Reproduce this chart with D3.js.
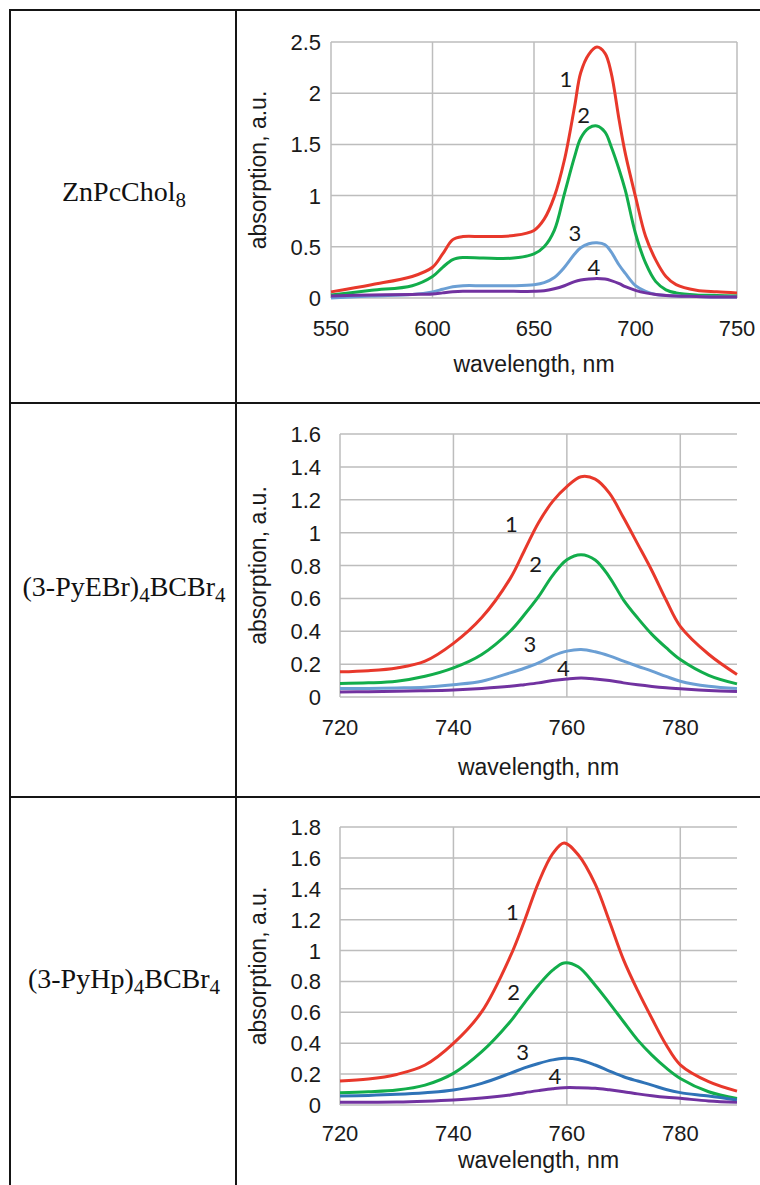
<!DOCTYPE html>
<html lang="en">
<head>
<meta charset="UTF-8">
<title>Absorption spectra</title>
<script src="https://d3js.org/d3.v7.min.js"></script>
<style>
  body { margin: 0; background: #fff; }
  svg { display: block; }
</style>
</head>
<body>
<div id="chart"></div>
<script>
// ---- data ----

// row 1: ZnPcChol8
const wlZn = [550, 570, 590, 600, 605, 610, 615, 625, 640, 650, 655, 660, 665, 670, 673, 677, 681, 685, 688, 692, 695, 700, 705, 710, 715, 720, 730, 740, 750];
const zn1 = [0.06, 0.13, 0.21, 0.30, 0.43, 0.57, 0.60, 0.60, 0.61, 0.66, 0.77, 0.99, 1.35, 1.87, 2.20, 2.38, 2.45, 2.39, 2.20, 1.73, 1.41, 0.99, 0.60, 0.37, 0.21, 0.13, 0.075, 0.06, 0.05];
const zn2 = [0.03, 0.075, 0.12, 0.21, 0.30, 0.375, 0.395, 0.39, 0.39, 0.43, 0.50, 0.66, 1.02, 1.38, 1.56, 1.66, 1.68, 1.62, 1.48, 1.25, 1.05, 0.63, 0.34, 0.16, 0.08, 0.05, 0.03, 0.025, 0.02];
const zn3 = [0.0, 0.02, 0.035, 0.06, 0.085, 0.11, 0.12, 0.12, 0.12, 0.13, 0.15, 0.20, 0.30, 0.43, 0.49, 0.53, 0.54, 0.52, 0.45, 0.32, 0.24, 0.12, 0.065, 0.035, 0.025, 0.02, 0.015, 0.01, 0.01];
const zn4 = [0.02, 0.03, 0.035, 0.04, 0.05, 0.06, 0.065, 0.065, 0.065, 0.065, 0.07, 0.09, 0.12, 0.16, 0.175, 0.185, 0.19, 0.185, 0.17, 0.14, 0.11, 0.075, 0.05, 0.035, 0.025, 0.02, 0.015, 0.01, 0.01];

// row 2: (3-PyEBr)4BCBr4
const wlEBr = [720, 725, 730, 735, 740, 745, 750, 752.5, 755, 757.5, 760, 762.5, 765, 767.5, 770, 772.5, 775, 777.5, 780, 785, 790];
const ebr1 = [0.153, 0.16, 0.177, 0.218, 0.326, 0.483, 0.72, 0.89, 1.06, 1.19, 1.28, 1.34, 1.325, 1.24, 1.09, 0.93, 0.768, 0.59, 0.43, 0.26, 0.137];
const ebr2 = [0.082, 0.086, 0.096, 0.126, 0.177, 0.259, 0.40, 0.50, 0.61, 0.74, 0.835, 0.866, 0.834, 0.73, 0.59, 0.48, 0.381, 0.30, 0.228, 0.132, 0.08];
const ebr3 = [0.051, 0.052, 0.055, 0.06, 0.075, 0.096, 0.147, 0.175, 0.208, 0.25, 0.279, 0.289, 0.275, 0.25, 0.218, 0.187, 0.157, 0.125, 0.096, 0.065, 0.051];
const ebr4 = [0.031, 0.032, 0.035, 0.038, 0.043, 0.052, 0.065, 0.075, 0.086, 0.10, 0.11, 0.116, 0.11, 0.10, 0.086, 0.074, 0.064, 0.056, 0.05, 0.04, 0.033];

// row 3: (3-PyHp)4BCBr4
const wlHp = [720, 725, 730, 735, 740, 745, 750, 752.5, 755, 757.5, 759.5, 762, 765, 767.5, 770, 772.5, 775, 777.5, 780, 785, 790];
const hp1 = [0.155, 0.168, 0.198, 0.259, 0.399, 0.604, 0.96, 1.19, 1.44, 1.627, 1.697, 1.62, 1.43, 1.19, 0.94, 0.74, 0.56, 0.39, 0.26, 0.151, 0.09];
const hp2 = [0.08, 0.086, 0.097, 0.129, 0.205, 0.345, 0.539, 0.66, 0.776, 0.873, 0.92, 0.895, 0.776, 0.66, 0.539, 0.42, 0.323, 0.24, 0.172, 0.086, 0.043];
const hp3 = [0.058, 0.062, 0.069, 0.08, 0.097, 0.14, 0.205, 0.24, 0.269, 0.292, 0.302, 0.295, 0.259, 0.22, 0.183, 0.155, 0.129, 0.10, 0.08, 0.058, 0.032];
const hp4 = [0.017, 0.018, 0.019, 0.024, 0.032, 0.045, 0.065, 0.08, 0.093, 0.105, 0.112, 0.112, 0.108, 0.098, 0.086, 0.072, 0.06, 0.05, 0.043, 0.026, 0.017];

// axis ticks
const xTicksZn = [550, 600, 650, 700, 750];
const yTicksZn = [0, 0.5, 1, 1.5, 2, 2.5];
const xTicksBC = [720, 740, 760, 780];
const yTicksEBr = [0, 0.2, 0.4, 0.6, 0.8, 1, 1.2, 1.4, 1.6];
const yTicksHp = [0, 0.2, 0.4, 0.6, 0.8, 1, 1.2, 1.4, 1.6, 1.8];

// curve numbers and where they sit (wavelength, absorption)
const curveNames = ["1", "2", "3", "4"];
const labelsZn = [[665.7, 2.14], [674.5, 1.79], [670.2, 0.63], [679.5, 0.30]];
const labelsEBr = [[750.2, 1.054], [754.5, 0.81], [753.5, 0.32], [759.4, 0.177]];
const labelsHp = [[750.4, 1.25], [750.6, 0.733], [752.2, 0.345], [757.9, 0.188]];

// compound names, [text, isSubscript]
const compounds = [
  [["ZnPcChol", false], ["8", true]],
  [["(3-PyEBr)", false], ["4", true], ["BCBr", false], ["4", true]],
  [["(3-PyHp)", false], ["4", true], ["BCBr", false], ["4", true]]
];

const panels = [
  { wl: wlZn, series: [zn1, zn2, zn3, zn4], xDomain: [550, 750], yDomain: [0, 2.5],
    xTicks: xTicksZn, yTicks: yTicksZn, labels: labelsZn,
    box: { left: 331, right: 737, top: 42, bottom: 298, tickY: 336, titleY: 372, nameY: 201 },
    colors: ["#e8382b", "#12ad4b", "#6b9fd4", "#7132a0"] },
  { wl: wlEBr, series: [ebr1, ebr2, ebr3, ebr4], xDomain: [720, 790], yDomain: [0, 1.6],
    xTicks: xTicksBC, yTicks: yTicksEBr, labels: labelsEBr,
    box: { left: 340, right: 737, top: 434, bottom: 697, tickY: 735, titleY: 775, nameY: 596 },
    colors: ["#e8382b", "#12ad4b", "#6b9fd4", "#7132a0"] },
  { wl: wlHp, series: [hp1, hp2, hp3, hp4], xDomain: [720, 790], yDomain: [0, 1.8],
    xTicks: xTicksBC, yTicks: yTicksHp, labels: labelsHp,
    box: { left: 340, right: 737, top: 827, bottom: 1105, tickY: 1141, titleY: 1168, nameY: 988 },
    colors: ["#e8382b", "#12ad4b", "#2f73b7", "#7132a0"] }
];

const W = 760, H = 1185;
const svg = d3.select("#chart").append("svg")
  .attr("width", W)
  .attr("height", H);

// ---- table frame ----
const frame = svg.append("g")
  .attr("stroke", "#151515")
  .attr("stroke-width", 2);
frame.append("line").attr("x1", 10).attr("x2", W + 2).attr("y1", 10).attr("y2", 10);
frame.append("line").attr("x1", 10).attr("x2", 10).attr("y1", 9).attr("y2", H + 2);
frame.append("line").attr("x1", 236).attr("x2", 236).attr("y1", 9).attr("y2", H + 2);
[403, 797].forEach(y => {
  frame.append("line").attr("x1", 10).attr("x2", W + 2).attr("y1", y).attr("y2", y);
});

const tickFont = "'Liberation Sans', Arial, sans-serif";

panels.forEach((p, i) => {
  const b = p.box;

  // compound name in the left cell
  const name = svg.append("text")
    .attr("x", 124)
    .attr("y", b.nameY)
    .attr("text-anchor", "middle")
    .attr("font-family", "'Liberation Serif', 'Times New Roman', serif")
    .attr("font-size", 28)
    .attr("fill", "#111");
  compounds[i].forEach(([t, sub], k) => {
    const prevSub = k > 0 && compounds[i][k - 1][1];
    name.append("tspan")
      .attr("font-size", sub ? 21 : 28)
      .attr("dy", sub ? 6 : (prevSub ? -6 : 0))
      .text(t);
  });

  const x = d3.scaleLinear().domain(p.xDomain).range([b.left, b.right]);
  const y = d3.scaleLinear().domain(p.yDomain).range([b.bottom, b.top]);

  const g = svg.append("g");

  // grid
  g.append("g")
    .selectAll("line")
    .data(p.yTicks)
    .join("line")
    .attr("x1", b.left).attr("x2", b.right)
    .attr("y1", d => y(d)).attr("y2", d => y(d))
    .attr("stroke", "#bdbdbd")
    .attr("stroke-width", 1.5);
  g.append("g")
    .selectAll("line")
    .data(p.xTicks)
    .join("line")
    .attr("x1", d => x(d)).attr("x2", d => x(d))
    .attr("y1", b.top).attr("y2", b.bottom)
    .attr("stroke", "#bdbdbd")
    .attr("stroke-width", 1.5);

  // tick labels
  g.append("g")
    .selectAll("text")
    .data(p.yTicks)
    .join("text")
    .attr("x", 321)
    .attr("y", d => y(d) + 8)
    .attr("text-anchor", "end")
    .attr("font-family", tickFont)
    .attr("font-size", 22)
    .attr("fill", "#1a1a1a")
    .text(d => String(d));
  g.append("g")
    .selectAll("text")
    .data(p.xTicks)
    .join("text")
    .attr("x", d => x(d))
    .attr("y", b.tickY)
    .attr("text-anchor", "middle")
    .attr("font-family", tickFont)
    .attr("font-size", 22)
    .attr("fill", "#1a1a1a")
    .text(d => String(d));

  // axis titles
  g.append("text")
    .attr("x", (b.left + b.right) / 2)
    .attr("y", b.titleY)
    .attr("text-anchor", "middle")
    .attr("font-family", tickFont)
    .attr("font-size", 23)
    .attr("fill", "#1a1a1a")
    .text("wavelength, nm");
  g.append("text")
    .attr("transform", `translate(266,${(b.top + b.bottom) / 2}) rotate(-90)`)
    .attr("text-anchor", "middle")
    .attr("font-family", tickFont)
    .attr("font-size", 23)
    .attr("fill", "#1a1a1a")
    .text("absorption, a.u.");

  // spectra
  const line = d3.line()
    .x(d => x(d[0]))
    .y(d => y(d[1]))
    .curve(d3.curveCatmullRom.alpha(0.5));
  p.series.forEach((s, k) => {
    g.append("path")
      .datum(p.wl.map((w, j) => [w, s[j]]))
      .attr("fill", "none")
      .attr("stroke", p.colors[k])
      .attr("stroke-width", 3)
      .attr("stroke-linejoin", "round")
      .attr("d", line);
  });

  // curve numbers
  g.append("g")
    .selectAll("text")
    .data(p.labels)
    .join("text")
    .attr("x", d => x(d[0]))
    .attr("y", d => y(d[1]) + 8)
    .attr("text-anchor", "middle")
    .attr("font-family", "Lato, 'Open Sans', sans-serif")
    .attr("font-size", 22)
    .attr("fill", "#1a1a1a")
    .text((d, k) => curveNames[k]);
});
</script>
</body>
</html>
